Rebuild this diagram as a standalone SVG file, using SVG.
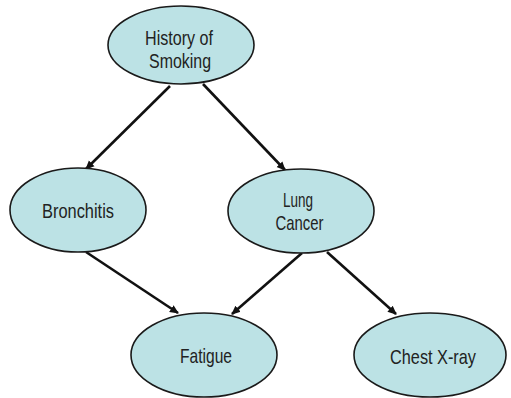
<svg xmlns="http://www.w3.org/2000/svg" width="511" height="398" viewBox="0 0 511 398">
<style>
.node ellipse{fill:#bce2e5;stroke:#1a1a1a;stroke-width:1.6}
.node text{font-family:"Liberation Sans Narrow","Liberation Sans",Arial,sans-serif;font-size:21px;fill:#222;text-anchor:middle}
.edges line{stroke:#111;stroke-width:2.6;marker-end:url(#ah)}
</style>
<defs>
<marker id="ah" markerWidth="10" markerHeight="10" refX="8" refY="4" orient="auto" markerUnits="userSpaceOnUse" viewBox="0 0 10 8">
<path d="M0,0 L9,4 L0,8 Z" fill="#111"/>
</marker>
</defs>
<g class="edges">
<line x1="170" y1="86" x2="86" y2="169"/>
<line x1="203" y1="84" x2="285" y2="170"/>
<line x1="86" y1="252" x2="178" y2="313"/>
<line x1="302" y1="253" x2="232" y2="314"/>
<line x1="327" y1="252" x2="396" y2="314"/>
</g>
<g id="history" class="node">
<ellipse cx="181" cy="45" rx="73" ry="39"/>
<text x="179" y="45" textLength="68" lengthAdjust="spacingAndGlyphs">History of</text>
<text x="180" y="68" textLength="62" lengthAdjust="spacingAndGlyphs">Smoking</text>
</g>
<g id="bronchitis" class="node">
<ellipse cx="78" cy="210" rx="68" ry="42"/>
<text x="78" y="218" textLength="72" lengthAdjust="spacingAndGlyphs">Bronchitis</text>
</g>
<g id="lungcancer" class="node">
<ellipse cx="301" cy="211" rx="73" ry="42"/>
<text x="298" y="207" textLength="30" lengthAdjust="spacingAndGlyphs">Lung</text>
<text x="299.5" y="230" textLength="48" lengthAdjust="spacingAndGlyphs">Cancer</text>
</g>
<g id="fatigue" class="node">
<ellipse cx="204" cy="355" rx="73" ry="42"/>
<text x="206" y="363" textLength="52" lengthAdjust="spacingAndGlyphs">Fatigue</text>
</g>
<g id="chestxray" class="node">
<ellipse cx="430" cy="355" rx="76" ry="42"/>
<text x="433" y="364" textLength="86" lengthAdjust="spacingAndGlyphs">Chest X-ray</text>
</g>
</svg>
